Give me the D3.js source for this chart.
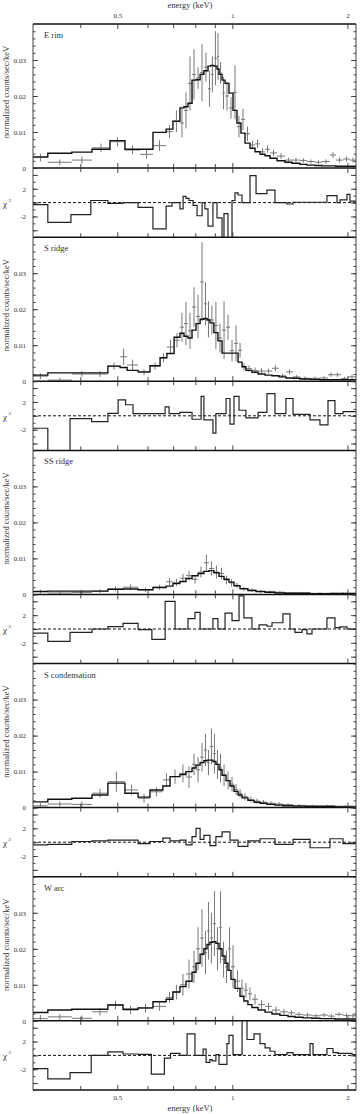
<!DOCTYPE html>
<html>
<head>
<meta charset="utf-8">
<script src="https://cdn.jsdelivr.net/npm/d3@7"></script>
<style>
body { margin: 0; background: #fff; }
svg text { font-family: "Liberation Serif", "DejaVu Serif", serif; fill: #333; }
</style>
</head>
<body>
<div id="chart"></div>
<script>
const PANEL_NAMES = ["E rim", "S ridge", "SS ridge", "S condensation", "W arc"];
const ENERGY_TICKS = [0.4, 0.5, 0.6, 0.7, 0.8, 0.9, 1, 2];
const ENERGY_LABELS = [0.5, 1, 2];
const COUNT_TICKS = [0, 0.01, 0.02, 0.03];
const RESID_TICKS = [-4, -2, 0, 2, 4];
const RESID_LABELS = [2, -2];

// spectrum bins: [eLo, eHi, data, error, model]
const eRimSpec = [
	[0.300, 0.328, 0.0029, 0.0011, 0.0031],
	[0.328, 0.379, 0.0016, 0.0008, 0.0041],
	[0.379, 0.428, 0.0022, 0.0010, 0.0044],
	[0.428, 0.477, 0.0056, 0.0012, 0.0052],
	[0.477, 0.522, 0.0073, 0.0013, 0.0076],
	[0.522, 0.572, 0.0050, 0.0012, 0.0052],
	[0.572, 0.618, 0.0038, 0.0012, 0.0052],
	[0.618, 0.669, 0.0062, 0.0015, 0.0099],
	[0.669, 0.697, 0.0101, 0.0018, 0.0108],
	[0.697, 0.727, 0.0130, 0.0030, 0.0130],
	[0.727, 0.745, 0.0125, 0.0040, 0.0167],
	[0.745, 0.763, 0.0160, 0.0050, 0.0170],
	[0.763, 0.782, 0.0235, 0.0075, 0.0180],
	[0.782, 0.801, 0.0260, 0.0070, 0.0244],
	[0.801, 0.821, 0.0250, 0.0030, 0.0245],
	[0.821, 0.840, 0.0265, 0.0080, 0.0260],
	[0.840, 0.861, 0.0280, 0.0040, 0.0270],
	[0.861, 0.876, 0.0220, 0.0050, 0.0283],
	[0.876, 0.892, 0.0260, 0.0050, 0.0285],
	[0.892, 0.909, 0.0305, 0.0075, 0.0283],
	[0.909, 0.920, 0.0310, 0.0065, 0.0275],
	[0.920, 0.937, 0.0264, 0.0030, 0.0260],
	[0.937, 0.954, 0.0208, 0.0045, 0.0244],
	[0.954, 0.977, 0.0200, 0.0040, 0.0235],
	[0.977, 1.001, 0.0167, 0.0030, 0.0208],
	[1.001, 1.025, 0.0210, 0.0075, 0.0160],
	[1.025, 1.050, 0.0115, 0.0030, 0.0125],
	[1.050, 1.076, 0.0135, 0.0030, 0.0097],
	[1.076, 1.109, 0.0095, 0.0020, 0.0069],
	[1.109, 1.143, 0.0064, 0.0012, 0.0055],
	[1.143, 1.178, 0.0067, 0.0012, 0.0045],
	[1.178, 1.214, 0.0045, 0.0010, 0.0038],
	[1.214, 1.251, 0.0052, 0.0010, 0.0034],
	[1.251, 1.305, 0.0042, 0.0009, 0.0027],
	[1.305, 1.369, 0.0033, 0.0008, 0.0020],
	[1.369, 1.428, 0.0022, 0.0007, 0.0016],
	[1.428, 1.498, 0.0022, 0.0006, 0.0013],
	[1.498, 1.563, 0.0021, 0.0006, 0.0010],
	[1.563, 1.640, 0.0018, 0.0006, 0.0008],
	[1.640, 1.711, 0.0016, 0.0005, 0.0007],
	[1.711, 1.795, 0.0018, 0.0006, 0.0006],
	[1.795, 1.861, 0.0036, 0.0008, 0.0006],
	[1.861, 1.942, 0.0022, 0.0007, 0.0005],
	[1.942, 2.025, 0.0025, 0.0007, 0.0005],
	[2.025, 2.100, 0.0022, 0.0007, 0.0005],
];
// residual bins: [eLo, eHi, value]
const eRimResid = [
	[0.300, 0.328, -0.3], [0.328, 0.377, -2.85], [0.377, 0.425, -1.75], [0.425, 0.471, 0.3],
	[0.471, 0.516, -0.1], [0.516, 0.565, 0], [0.565, 0.618, -0.7], [0.618, 0.669, -3.8],
	[0.669, 0.693, -0.5], [0.693, 0.727, 0], [0.727, 0.741, -0.9], [0.741, 0.754, 0.9],
	[0.754, 0.768, 0.6], [0.768, 0.787, 0.3], [0.787, 0.806, -0.4], [0.806, 0.831, -1.9],
	[0.831, 0.845, 0], [0.845, 0.861, -0.9], [0.861, 0.887, -3.4], [0.887, 0.909, 0],
	[0.909, 0.937, -2.2], [0.937, 0.948, -5.5], [0.948, 0.971, -1.6], [0.971, 0.995, -5.5],
	[0.995, 1.013, 0.3], [1.013, 1.032, 1.4], [1.032, 1.057, 1.1], [1.057, 1.109, 0],
	[1.109, 1.150, 3.9], [1.150, 1.228, 1.3], [1.228, 1.289, 1.8], [1.289, 1.386, 0],
	[1.386, 1.437, -0.2], [1.437, 1.763, 0.05], [1.763, 1.873, 1.0], [1.873, 1.907, 0],
	[1.907, 1.989, 0.4], [1.989, 2.025, 1.2], [2.025, 2.100, 0.2],
];

const sRidgeSpec = [
	[0.300, 0.328, 0.0014, 0.0008, 0.0017],
	[0.328, 0.379, 0.0003, 0.0006, 0.0023],
	[0.379, 0.428, 0.0020, 0.0008, 0.0023],
	[0.428, 0.471, 0.0020, 0.0008, 0.0023],
	[0.471, 0.507, 0.0042, 0.0010, 0.0042],
	[0.507, 0.529, 0.0068, 0.0022, 0.0038],
	[0.529, 0.565, 0.0045, 0.0015, 0.0030],
	[0.565, 0.607, 0.0025, 0.0008, 0.0026],
	[0.607, 0.645, 0.0042, 0.0010, 0.0043],
	[0.645, 0.672, 0.0065, 0.0012, 0.0065],
	[0.672, 0.702, 0.0095, 0.0020, 0.0077],
	[0.702, 0.727, 0.0114, 0.0020, 0.0122],
	[0.727, 0.745, 0.0150, 0.0040, 0.0133],
	[0.745, 0.763, 0.0160, 0.0060, 0.0125],
	[0.763, 0.782, 0.0140, 0.0050, 0.0120],
	[0.782, 0.801, 0.0206, 0.0055, 0.0142],
	[0.801, 0.821, 0.0180, 0.0060, 0.0160],
	[0.821, 0.840, 0.0276, 0.0110, 0.0172],
	[0.840, 0.856, 0.0215, 0.0060, 0.0174],
	[0.856, 0.871, 0.0172, 0.0050, 0.0170],
	[0.871, 0.892, 0.0170, 0.0040, 0.0162],
	[0.892, 0.914, 0.0155, 0.0065, 0.0135],
	[0.914, 0.937, 0.0120, 0.0040, 0.0112],
	[0.937, 0.960, 0.0142, 0.0080, 0.0078],
	[0.960, 0.983, 0.0150, 0.0035, 0.0078],
	[0.983, 1.007, 0.0085, 0.0030, 0.0078],
	[1.007, 1.032, 0.0105, 0.0050, 0.0078],
	[1.032, 1.057, 0.0086, 0.0020, 0.0053],
	[1.057, 1.082, 0.0040, 0.0010, 0.0040],
	[1.082, 1.122, 0.0035, 0.0009, 0.0030],
	[1.122, 1.164, 0.0030, 0.0008, 0.0025],
	[1.164, 1.214, 0.0028, 0.0008, 0.0020],
	[1.214, 1.266, 0.0028, 0.0007, 0.0017],
	[1.266, 1.320, 0.0036, 0.0008, 0.0015],
	[1.320, 1.377, 0.0015, 0.0006, 0.0012],
	[1.377, 1.437, 0.0026, 0.0007, 0.0009],
	[1.437, 1.498, 0.0012, 0.0005, 0.0008],
	[1.498, 1.592, 0.0008, 0.0005, 0.0006],
	[1.592, 1.690, 0.0008, 0.0005, 0.0005],
	[1.690, 1.774, 0.0009, 0.0005, 0.0004],
	[1.774, 1.839, 0.0018, 0.0006, 0.0004],
	[1.839, 1.918, 0.0018, 0.0006, 0.0004],
	[1.918, 2.001, 0.0007, 0.0005, 0.0004],
	[2.001, 2.100, 0.0012, 0.0006, 0.0004],
];
const sRidgeResid = [
	[0.300, 0.328, -1.8], [0.328, 0.375, -6], [0.375, 0.427, -0.4], [0.427, 0.471, -0.85],
	[0.471, 0.501, 0.35], [0.501, 0.524, 2.3], [0.524, 0.548, 1.6], [0.548, 0.665, 0.3],
	[0.665, 0.681, 1.3], [0.681, 0.727, 0.3], [0.727, 0.782, 0.5], [0.782, 0.826, -0.5],
	[0.826, 0.840, 2.8], [0.840, 0.887, -0.6], [0.887, 0.903, -2.5], [0.903, 0.960, 0.3],
	[0.960, 0.983, 2.5], [0.983, 1.007, -1.2], [1.007, 1.038, 2.8], [1.038, 1.082, 0.8],
	[1.082, 1.164, -0.3], [1.164, 1.228, 0.5], [1.228, 1.289, 3.2], [1.289, 1.377, 0.3],
	[1.377, 1.437, 2.5], [1.437, 1.592, 0.2], [1.592, 1.690, -0.6], [1.690, 1.774, -1.3],
	[1.774, 1.850, 2.2], [1.850, 1.942, 0.3], [1.942, 2.100, 0.6],
];

const ssRidgeSpec = [
	[0.300, 0.328, 0.0008, 0.0005, 0.0008],
	[0.328, 0.379, 0.0004, 0.0004, 0.0009],
	[0.379, 0.428, 0.0005, 0.0005, 0.0009],
	[0.428, 0.471, 0.0009, 0.0005, 0.0009],
	[0.471, 0.516, 0.0016, 0.0007, 0.0014],
	[0.516, 0.565, 0.0020, 0.0008, 0.0015],
	[0.565, 0.618, 0.0013, 0.0006, 0.0013],
	[0.618, 0.669, 0.0020, 0.0007, 0.0019],
	[0.669, 0.697, 0.0035, 0.0010, 0.0023],
	[0.697, 0.727, 0.0033, 0.0010, 0.0030],
	[0.727, 0.754, 0.0045, 0.0012, 0.0036],
	[0.754, 0.782, 0.0052, 0.0013, 0.0044],
	[0.782, 0.811, 0.0042, 0.0012, 0.0052],
	[0.811, 0.840, 0.0062, 0.0015, 0.0058],
	[0.840, 0.866, 0.0088, 0.0022, 0.0064],
	[0.866, 0.892, 0.0072, 0.0020, 0.0066],
	[0.892, 0.920, 0.0062, 0.0018, 0.0060],
	[0.920, 0.948, 0.0058, 0.0016, 0.0050],
	[0.948, 0.977, 0.0040, 0.0012, 0.0042],
	[0.977, 1.007, 0.0032, 0.0010, 0.0034],
	[1.007, 1.044, 0.0025, 0.0008, 0.0024],
	[1.044, 1.095, 0.0015, 0.0006, 0.0016],
	[1.095, 1.150, 0.0012, 0.0005, 0.0011],
	[1.150, 1.214, 0.0008, 0.0004, 0.0008],
	[1.214, 1.289, 0.0007, 0.0004, 0.0006],
	[1.289, 1.369, 0.0006, 0.0004, 0.0004],
	[1.369, 1.454, 0.0004, 0.0003, 0.0003],
	[1.454, 1.592, 0.0004, 0.0003, 0.0003],
	[1.592, 1.795, 0.0003, 0.0003, 0.0002],
	[1.795, 2.100, 0.0004, 0.0003, 0.0002],
];
const ssRidgeResid = [
	[0.300, 0.328, -0.6], [0.328, 0.375, -1.8], [0.375, 0.428, -0.5], [0.428, 0.471, 0],
	[0.471, 0.516, 0.35], [0.516, 0.565, 0.8], [0.565, 0.614, -0.1], [0.614, 0.665, -1.5],
	[0.665, 0.706, 4.0], [0.706, 0.763, 0], [0.763, 0.796, 1.5], [0.796, 0.821, 2.4],
	[0.821, 0.887, 0], [0.887, 0.914, 1.5], [0.914, 0.954, 0], [0.954, 0.995, 2.3],
	[0.995, 1.038, 1.2], [1.038, 1.069, 4.8], [1.069, 1.122, 1.6], [1.122, 1.171, 0],
	[1.171, 1.228, 0.6], [1.228, 1.266, 0.4], [1.266, 1.352, 0.9], [1.352, 1.411, 2.2],
	[1.411, 1.454, 0], [1.454, 1.517, -0.5], [1.517, 1.563, -0.1], [1.563, 1.611, -0.7],
	[1.611, 1.763, 0], [1.763, 1.850, 1.6], [1.850, 1.907, 0.2], [1.907, 1.989, 0.3],
	[1.989, 2.100, 0],
];

const sCondSpec = [
	[0.300, 0.328, 0.0005, 0.0008, 0.0016],
	[0.328, 0.379, 0.0010, 0.0007, 0.0023],
	[0.379, 0.428, 0.0009, 0.0008, 0.0026],
	[0.428, 0.471, 0.0040, 0.0012, 0.0035],
	[0.471, 0.522, 0.0072, 0.0028, 0.0068],
	[0.522, 0.565, 0.0049, 0.0015, 0.0040],
	[0.565, 0.607, 0.0026, 0.0012, 0.0029],
	[0.607, 0.656, 0.0044, 0.0012, 0.0049],
	[0.656, 0.685, 0.0077, 0.0018, 0.0060],
	[0.685, 0.727, 0.0086, 0.0020, 0.0086],
	[0.727, 0.754, 0.0095, 0.0025, 0.0092],
	[0.754, 0.782, 0.0085, 0.0030, 0.0100],
	[0.782, 0.801, 0.0120, 0.0030, 0.0110],
	[0.801, 0.821, 0.0105, 0.0035, 0.0118],
	[0.821, 0.840, 0.0140, 0.0040, 0.0125],
	[0.840, 0.856, 0.0160, 0.0045, 0.0130],
	[0.856, 0.871, 0.0125, 0.0035, 0.0132],
	[0.871, 0.887, 0.0170, 0.0050, 0.0132],
	[0.887, 0.903, 0.0150, 0.0055, 0.0128],
	[0.903, 0.920, 0.0120, 0.0040, 0.0120],
	[0.920, 0.937, 0.0110, 0.0040, 0.0105],
	[0.937, 0.960, 0.0090, 0.0030, 0.0090],
	[0.960, 0.983, 0.0075, 0.0025, 0.0075],
	[0.983, 1.007, 0.0065, 0.0020, 0.0060],
	[1.007, 1.032, 0.0050, 0.0015, 0.0045],
	[1.032, 1.057, 0.0040, 0.0012, 0.0035],
	[1.057, 1.095, 0.0030, 0.0010, 0.0027],
	[1.095, 1.136, 0.0022, 0.0008, 0.0020],
	[1.136, 1.178, 0.0018, 0.0007, 0.0015],
	[1.178, 1.228, 0.0015, 0.0006, 0.0012],
	[1.228, 1.289, 0.0012, 0.0005, 0.0009],
	[1.289, 1.352, 0.0010, 0.0005, 0.0007],
	[1.352, 1.437, 0.0008, 0.0004, 0.0005],
	[1.437, 1.544, 0.0006, 0.0004, 0.0004],
	[1.544, 1.690, 0.0005, 0.0003, 0.0003],
	[1.690, 1.850, 0.0005, 0.0003, 0.0003],
	[1.850, 2.100, 0.0004, 0.0003, 0.0002],
];
const sCondResid = [
	[0.300, 0.328, -0.4], [0.328, 0.379, -0.3], [0.379, 0.428, 0.1], [0.428, 0.471, 0.2],
	[0.471, 0.522, 0.3], [0.522, 0.565, 0.3], [0.565, 0.607, -0.2], [0.607, 0.656, 0.1],
	[0.656, 0.685, 0.6], [0.685, 0.727, 0.2], [0.727, 0.754, 0.3], [0.754, 0.782, -0.4],
	[0.782, 0.801, 0.8], [0.801, 0.821, 2.0], [0.821, 0.840, 0.4], [0.840, 0.871, 1.0],
	[0.871, 0.903, -0.5], [0.903, 0.937, 0.8], [0.937, 0.983, 1.5], [0.983, 1.032, 0.3],
	[1.032, 1.095, -0.6], [1.095, 1.178, 0.2], [1.178, 1.289, 0.5], [1.289, 1.437, -0.3],
	[1.437, 1.592, 0.4], [1.592, 1.795, -0.8], [1.795, 1.942, 0.5], [1.942, 2.100, -0.2],
];

const wArcSpec = [
	[0.300, 0.328, 0.0006, 0.0010, 0.0023],
	[0.328, 0.379, 0.0011, 0.0008, 0.0030],
	[0.379, 0.428, 0.0007, 0.0008, 0.0032],
	[0.428, 0.471, 0.0025, 0.0010, 0.0032],
	[0.471, 0.516, 0.0044, 0.0012, 0.0044],
	[0.516, 0.565, 0.0030, 0.0012, 0.0032],
	[0.565, 0.618, 0.0035, 0.0012, 0.0036],
	[0.618, 0.669, 0.0040, 0.0012, 0.0053],
	[0.669, 0.697, 0.0065, 0.0015, 0.0060],
	[0.697, 0.727, 0.0080, 0.0020, 0.0080],
	[0.727, 0.754, 0.0100, 0.0030, 0.0095],
	[0.754, 0.782, 0.0130, 0.0040, 0.0110],
	[0.782, 0.801, 0.0150, 0.0045, 0.0135],
	[0.801, 0.821, 0.0200, 0.0060, 0.0160],
	[0.821, 0.840, 0.0230, 0.0080, 0.0185],
	[0.840, 0.856, 0.0190, 0.0060, 0.0200],
	[0.856, 0.871, 0.0250, 0.0080, 0.0212],
	[0.871, 0.887, 0.0230, 0.0070, 0.0218],
	[0.887, 0.903, 0.0270, 0.0090, 0.0220],
	[0.903, 0.920, 0.0200, 0.0060, 0.0215],
	[0.920, 0.937, 0.0260, 0.0100, 0.0200],
	[0.937, 0.954, 0.0170, 0.0050, 0.0180],
	[0.954, 0.971, 0.0150, 0.0045, 0.0160],
	[0.971, 0.989, 0.0200, 0.0060, 0.0140],
	[0.989, 1.013, 0.0150, 0.0060, 0.0115],
	[1.013, 1.044, 0.0110, 0.0030, 0.0090],
	[1.044, 1.069, 0.0090, 0.0025, 0.0068],
	[1.069, 1.095, 0.0085, 0.0020, 0.0055],
	[1.095, 1.122, 0.0075, 0.0018, 0.0045],
	[1.122, 1.164, 0.0060, 0.0015, 0.0037],
	[1.164, 1.214, 0.0045, 0.0012, 0.0030],
	[1.214, 1.266, 0.0040, 0.0010, 0.0024],
	[1.266, 1.328, 0.0030, 0.0009, 0.0019],
	[1.328, 1.394, 0.0025, 0.0008, 0.0015],
	[1.394, 1.454, 0.0022, 0.0007, 0.0012],
	[1.454, 1.526, 0.0018, 0.0006, 0.0010],
	[1.526, 1.610, 0.0016, 0.0006, 0.0008],
	[1.610, 1.690, 0.0014, 0.0005, 0.0007],
	[1.690, 1.774, 0.0016, 0.0006, 0.0006],
	[1.774, 1.850, 0.0013, 0.0005, 0.0006],
	[1.850, 1.942, 0.0018, 0.0006, 0.0005],
	[1.942, 2.025, 0.0015, 0.0006, 0.0005],
	[2.025, 2.100, 0.0014, 0.0006, 0.0005],
];
const wArcResid = [
	[0.300, 0.328, -1.9], [0.328, 0.375, -3.4], [0.375, 0.426, -2.5], [0.426, 0.471, 0],
	[0.471, 0.516, 0.5], [0.516, 0.565, 0.2], [0.565, 0.612, 0.15], [0.612, 0.662, -2.7],
	[0.662, 0.687, -0.4], [0.687, 0.727, 0.3], [0.727, 0.759, 0], [0.759, 0.796, 3.1],
	[0.796, 0.836, 0], [0.836, 0.851, 0.9], [0.851, 0.871, -1.0], [0.871, 0.882, -0.6],
	[0.882, 0.903, -0.8], [0.903, 0.920, 0.1], [0.920, 0.965, -1.3], [0.965, 0.977, 1.7],
	[0.977, 1.001, 2.9], [1.001, 1.057, 0.1], [1.057, 1.089, 5.5], [1.089, 1.136, 2.3],
	[1.136, 1.178, 3.1], [1.178, 1.214, 1.7], [1.214, 1.251, 1.1], [1.251, 1.289, 0.6],
	[1.289, 1.386, 0.1], [1.386, 1.437, 0.4], [1.437, 1.592, 0.1], [1.592, 1.621, 1.7],
	[1.621, 1.763, 0.1], [1.763, 1.828, 1.0], [1.828, 1.884, 0.4], [1.884, 2.050, 0.3],
	[2.050, 2.100, 0.1],
];

const SPECTRA = [eRimSpec, sRidgeSpec, ssRidgeSpec, sCondSpec, wArcSpec];
const RESIDUALS = [eRimResid, sRidgeResid, ssRidgeResid, sCondResid, wArcResid];


var width = 360;
var height = 1114;
var left = 33, right = 356, top0 = 24;
var specH = 144, resH = 69.2;

var svg = d3.select('#chart').append('svg')
	.attr('width', width)
	.attr('height', height);

var x = d3.scaleLog().domain([0.3, 2.1]).range([left, right]);

// step line through bins
function stepPath(bins, yScale, idx) {
	var pts = bins.map(function(b) { return [b[0], b[idx]]; });
	var last = bins[bins.length - 1];
	pts.push([last[1], last[idx]]);
	return d3.line()
		.x(function(d) { return x(d[0]); })
		.y(function(d) { return yScale(d[1]); })
		.curve(d3.curveStepAfter)(pts);
}

function xTicks(g, y, dir) {
	ENERGY_TICKS.forEach(function(t) {
		var len = ENERGY_LABELS.indexOf(t) > -1 ? 5 : 4;
		g.append('line')
			.attr('x1', x(t)).attr('x2', x(t))
			.attr('y1', y).attr('y2', y + dir * len)
			.attr('stroke', '#333').attr('stroke-width', 0.9);
	});
}

SPECTRA.forEach(function(spec, i) {
	var top = top0 + i * (specH + resH);
	var specBottom = top + specH;
	var resBottom = specBottom + resH;

	var ySpec = d3.scaleLinear().domain([0, 0.04]).range([specBottom, top]);
	var yRes = d3.scaleLinear().domain([-5, 5]).range([resBottom, specBottom]);

	var g = svg.append('g').attr('class', 'panel-' + i);

	// clip areas
	svg.append('clipPath').attr('id', 'clip-spec-' + i)
		.append('rect').attr('x', left).attr('y', top).attr('width', right - left).attr('height', specH);
	svg.append('clipPath').attr('id', 'clip-res-' + i)
		.append('rect').attr('x', left).attr('y', specBottom).attr('width', right - left).attr('height', resH);

	// data crosses
	var pts = g.append('g').attr('clip-path', 'url(#clip-spec-' + i + ')');
	spec.forEach(function(b) {
		var xc = Math.sqrt(b[0] * b[1]);
		pts.append('line')
			.attr('x1', x(b[0])).attr('x2', x(b[1]))
			.attr('y1', ySpec(b[2])).attr('y2', ySpec(b[2]))
			.attr('stroke', '#777').attr('stroke-width', 1);
		pts.append('line')
			.attr('x1', x(xc)).attr('x2', x(xc))
			.attr('y1', ySpec(b[2] - b[3])).attr('y2', ySpec(b[2] + b[3]))
			.attr('stroke', '#777').attr('stroke-width', 1);
	});

	// model
	g.append('path')
		.attr('clip-path', 'url(#clip-spec-' + i + ')')
		.attr('d', stepPath(spec, ySpec, 4))
		.attr('fill', 'none')
		.attr('stroke', '#111')
		.attr('stroke-width', 1.4);

	// residual zero line
	g.append('line')
		.attr('x1', left).attr('x2', right)
		.attr('y1', yRes(0)).attr('y2', yRes(0))
		.attr('stroke', '#111').attr('stroke-width', 1)
		.attr('stroke-dasharray', '3,2');

	// residuals
	g.append('path')
		.attr('clip-path', 'url(#clip-res-' + i + ')')
		.attr('d', stepPath(RESIDUALS[i], yRes, 2))
		.attr('fill', 'none')
		.attr('stroke', '#222')
		.attr('stroke-width', 1.2);

	// frame
	g.append('line').attr('x1', left).attr('x2', left).attr('y1', top).attr('y2', resBottom)
		.attr('stroke', '#444').attr('stroke-width', 1);
	g.append('line').attr('x1', right).attr('x2', right).attr('y1', top).attr('y2', resBottom)
		.attr('stroke', '#444').attr('stroke-width', 1);
	[specBottom, resBottom].forEach(function(yy) {
		g.append('line').attr('x1', left).attr('x2', right).attr('y1', yy).attr('y2', yy)
			.attr('stroke', '#111').attr('stroke-width', 1.5);
	});
	if (i === 0) {
		g.append('line').attr('x1', left).attr('x2', right).attr('y1', top).attr('y2', top)
			.attr('stroke', '#111').attr('stroke-width', 1.5);
		xTicks(g, top, 1);
	}
	xTicks(g, specBottom, -1);
	xTicks(g, specBottom, 1);
	xTicks(g, resBottom, -1);

	// spectrum y axis
	var minorSpec = d3.range(0, 0.04, 0.002);
	g.append('g').attr('transform', 'translate(' + left + ',0)')
		.call(d3.axisLeft(ySpec).tickValues(minorSpec).tickSize(-2.5).tickFormat(''));
	g.append('g').attr('transform', 'translate(' + right + ',0)')
		.call(d3.axisRight(ySpec).tickValues(minorSpec).tickSize(-2.5).tickFormat(''));
	g.append('g').attr('transform', 'translate(' + left + ',0)')
		.call(d3.axisLeft(ySpec).tickValues(COUNT_TICKS).tickSize(-5).tickPadding(7)
			.tickFormat(function(d) { return d === 0 ? '0' : d3.format('.2f')(d); }));
	g.append('g').attr('transform', 'translate(' + right + ',0)')
		.call(d3.axisRight(ySpec).tickValues(COUNT_TICKS).tickSize(-5).tickFormat(''));

	// residual y axis
	var minorRes = d3.range(-5, 5.01, 1);
	g.append('g').attr('transform', 'translate(' + left + ',0)')
		.call(d3.axisLeft(yRes).tickValues(minorRes).tickSize(-2.5).tickFormat(''));
	g.append('g').attr('transform', 'translate(' + right + ',0)')
		.call(d3.axisRight(yRes).tickValues(minorRes).tickSize(-2.5).tickFormat(''));
	g.append('g').attr('transform', 'translate(' + left + ',0)')
		.call(d3.axisLeft(yRes).tickValues(RESID_TICKS).tickSize(-5).tickPadding(7)
			.tickFormat(function(d) { return RESID_LABELS.indexOf(d) > -1 ? d : ''; }));
	g.append('g').attr('transform', 'translate(' + right + ',0)')
		.call(d3.axisRight(yRes).tickValues(RESID_TICKS).tickSize(-5).tickFormat(''));

	g.selectAll('.domain').remove();
	g.selectAll('.tick line').attr('stroke', '#333').attr('stroke-width', 0.9);
	g.selectAll('.tick text').attr('font-size', 7).attr('fill', '#444')
		.style('font-family', '"Liberation Serif", serif');

	// panel title
	g.append('text').text(PANEL_NAMES[i])
		.attr('x', left + 11).attr('y', top + 14)
		.attr('font-size', 8.5);

	// y labels
	g.append('text').text('normalized counts/sec/keV')
		.attr('font-size', 8.5)
		.attr('text-anchor', 'middle')
		.attr('transform', 'translate(9,' + (top + specH / 2 - 4) + ') rotate(-90)');
	var chi = g.append('text')
		.attr('x', 3).attr('y', yRes(0) + 4)
		.attr('font-size', 9);
	chi.append('tspan').text('χ');
	chi.append('tspan').text('2').attr('font-size', 5).attr('dy', -5).attr('dx', 1.5);
});

// energy labels top and bottom
var lastBottom = top0 + 5 * (specH + resH);
ENERGY_LABELS.forEach(function(t) {
	svg.append('text').text(t).attr('x', x(t)).attr('y', 18)
		.attr('font-size', 7).attr('text-anchor', 'middle').attr('fill', '#444');
	svg.append('text').text(t).attr('x', x(t)).attr('y', lastBottom + 10)
		.attr('font-size', 7).attr('text-anchor', 'middle').attr('fill', '#444');
});
svg.append('text').text('energy (keV)')
	.attr('x', 190).attr('y', 8)
	.attr('font-size', 8.5).attr('text-anchor', 'middle');
svg.append('text').text('energy (keV)')
	.attr('x', 190).attr('y', lastBottom + 21)
	.attr('font-size', 8.5).attr('text-anchor', 'middle');
</script>
</body>
</html>
